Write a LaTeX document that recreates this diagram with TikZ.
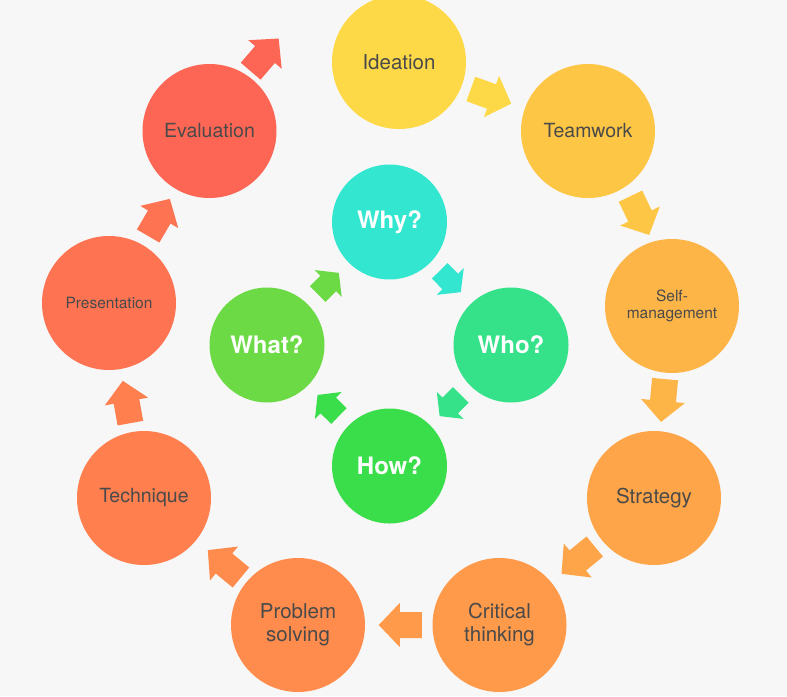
\documentclass[tikz,border=0pt]{standalone}
\usepackage{fontspec}
\setmainfont{TeX Gyre Heros}
\usetikzlibrary{calc}
\definecolor{bg}{HTML}{F7F7F7}
\definecolor{txt}{HTML}{4A4A4A}
\definecolor{cIdea}{HTML}{FDD948}
\definecolor{cTeam}{HTML}{FEC645}
\definecolor{cSelf}{HTML}{FDB548}
\definecolor{cStrat}{HTML}{FDA548}
\definecolor{cCrit}{HTML}{FE9A4A}
\definecolor{cProb}{HTML}{FF8C4D}
\definecolor{cTech}{HTML}{FF7F4F}
\definecolor{cPres}{HTML}{FE7452}
\definecolor{cEval}{HTML}{FD6655}
\definecolor{cWhy}{HTML}{33E6D0}
\definecolor{cWho}{HTML}{35E28A}
\definecolor{cHow}{HTML}{3ADE4B}
\definecolor{cWhat}{HTML}{6CDA45}
\tikzset{
  outer/.style={circle, minimum size=134pt, inner sep=0pt, align=center, text=txt,
    font=\fontsize{19.5}{23}\selectfont},
  bigtxt/.style={font=\fontsize{20.5}{23}\selectfont},
  smalltxt/.style={font=\fontsize{15.5}{16.5}\selectfont},
  inner/.style={circle, minimum size=115pt, inner sep=0pt, align=center, text=white,
    font=\fontsize{24}{26}\selectfont\bfseries},
}
\def\outerarrow{(-22,-13) -- (0,-13) -- (0,-22) -- (21,0) -- (0,22) -- (0,13) -- (-22,13) -- cycle}
\def\innerarrow{(-15,-11) -- (0,-11) -- (0,-19) -- (15,0) -- (0,19) -- (0,11) -- (-15,11) -- cycle}
\newcommand\blockarrow[5]{%
  \pgfmathanglebetweenpoints{\pgfpointanchor{#1}{center}}{\pgfpointanchor{#2}{center}}%
  \edef\barrowang{\pgfmathresult}%
  \begin{scope}[shift={($(#1)!0.5!(#2)+(#5)$)}, rotate=\barrowang]
    \fill[#3] #4;
  \end{scope}}
\begin{document}
\begin{tikzpicture}[x=1pt,y=-1pt]
\fill[bg] (0,0) rectangle (787,696);
\useasboundingbox (0,0) rectangle (787,696);
% outer ring
\node[outer, bigtxt, fill=cIdea] (idea) at (399,62) {Ideation};
\node[outer, fill=cTeam] (team) at (588,131) {Teamwork};
\node[outer, smalltxt, fill=cSelf] (self) at (672,306) {Self-\\management};
\node[outer, bigtxt, fill=cStrat] (strat) at (654,498) {Strategy};
\node[outer, bigtxt, fill=cCrit] (crit) at (499.5,625) {Critical\\thinking};
\node[outer, bigtxt, fill=cProb] (prob) at (298,625) {Problem\\solving};
\node[outer, fill=cTech] (tech) at (144,498) {Technique};
\node[outer, smalltxt, fill=cPres] (pres) at (109,303) {Presentation};
\node[outer, fill=cEval] (eval) at (209.5,131) {Evaluation};
% inner ring
\node[inner, fill=cWhy] (why) at (389.5,222) {Why?};
\node[inner, fill=cWho] (who) at (511,345) {Who?};
\node[inner, fill=cHow] (how) at (389.5,466) {How?};
\node[inner, fill=cWhat] (what) at (267,345) {What?};
% free ends of the last outer arrow
\coordinate (evtail) at (250,72);
\coordinate (evtip) at (280,37);
% outer arrows
\blockarrow{idea}{team}{cIdea}{\outerarrow}{-2,0}
\blockarrow{team}{self}{cTeam}{\outerarrow}{10,-2.5}
\blockarrow{self}{strat}{cSelf}{\outerarrow}{0,-1}
\blockarrow{strat}{crit}{cStrat}{\outerarrow}{1,-1}
\blockarrow{crit}{prob}{cCrit}{\outerarrow}{1,0}
\blockarrow{prob}{tech}{cProb}{\outerarrow}{3,2}
\blockarrow{tech}{pres}{cTech}{\outerarrow}{0,1}
\blockarrow{pres}{eval}{cPres}{\outerarrow}{0,0}
\blockarrow{evtail}{evtip}{cEval}{\outerarrow}{0,0}
% inner arrows
\blockarrow{why}{who}{cWhy}{\innerarrow}{0,-2}
\blockarrow{who}{how}{cWho}{\innerarrow}{0,0}
\blockarrow{how}{what}{cHow}{\innerarrow}{0,0}
\blockarrow{what}{why}{cWhat}{\innerarrow}{0,0}
\end{tikzpicture}
\end{document}
